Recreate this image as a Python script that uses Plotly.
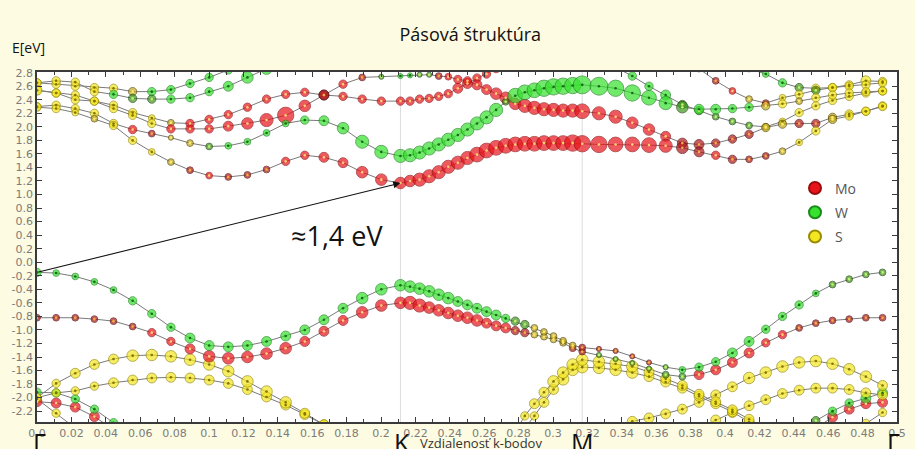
import numpy as np
import plotly.graph_objects as go

N = None

# ---------------- k-path (high-symmetry points) ----------------
path_labels = ["Γ", "K", "M", "Γ"]
path_nodes = [0.0, 0.2113, 0.3170, 0.4916]
label_pos = [0.0017, 0.2120, 0.3174, 0.4977]
seg_points = [20, 20, 19]

k1 = np.linspace(path_nodes[0], path_nodes[1], seg_points[0])
k2 = np.linspace(path_nodes[1], path_nodes[2], seg_points[1])[1:]
k3 = np.linspace(path_nodes[2], path_nodes[3], seg_points[2])[1:]
kpath = np.concatenate([k1, k2, k3])  # 57 k-points

# ---------------- band energies (eV) ----------------
# conduction bands
cb1 = ([2.29, 2.27, 2.21, 2.12, 2.02, 1.80, 1.63, 1.48, 1.36, 1.28, 1.26, 1.29, 1.37, 1.49, 1.58, 1.55, 1.47, 1.33, 1.22, 1.17]
       + [1.20, 1.22, 1.27, 1.33, 1.41, 1.47, 1.54, 1.59, 1.65, 1.69, 1.72, 1.74, 1.75, 1.75, 1.76, 1.76, 1.76, 1.76, 1.75]
       + [1.74, 1.74, 1.74, 1.73, 1.72, 1.69, 1.63, 1.58, 1.52, 1.52, 1.57, 1.64, 1.77, 1.94, 2.11, 2.16, 2.23, 2.30])
cb2 = ([2.30, 2.32, 2.27, 2.20, 2.05, 1.96, 1.90, 1.84, 1.76, 1.71, 1.72, 1.78, 1.91, 2.05, 2.10, 2.09, 1.98, 1.78, 1.63, 1.57]
       + [1.58, 1.62, 1.68, 1.74, 1.81, 1.88, 1.96, 2.05, 2.14, 2.25, 2.37, 2.46, 2.51, 2.54, 2.57, 2.59, 2.60, 2.61, 2.62]
       + [2.60, 2.57, 2.50, 2.43, 2.35, 2.29, 2.26, 2.26, 2.27, 2.29, 2.31, 2.34, 2.38, 2.43, 2.47, 2.50, 2.52, 2.53])
cb3 = ([2.54, 2.50, 2.40, 2.38, 2.27, 2.17, 2.05, 1.97, 1.97, 1.97, 2.01, 2.05, 2.10, 2.17, 2.31, 2.47, 2.63, 2.73, 2.74, 2.75]
       + [2.76, 2.77, 2.77, 2.75, 2.74, 2.70, 2.68, 2.62, 2.55, 2.49, 2.43, 2.34, 2.31, 2.28, 2.26, 2.25, 2.24, 2.24, 2.23]
       + [2.20, 2.15, 2.06, 1.96, 1.86, 1.76, 1.74, 1.76, 1.82, 1.89, 1.99, 2.04, 2.05, 2.05, 2.14, 2.19, 2.23, 2.31])
cb4 = ([2.54, 2.50, 2.47, 2.38, 2.32, 2.21, 2.13, 2.06, 2.05, 2.11, 2.18, 2.29, 2.41, 2.48, 2.51, 2.47, 2.45, 2.41, 2.38, 2.38]
       + [2.38, 2.41, 2.42, 2.45, 2.49, 2.57, 2.64, 2.72, 2.78, 2.86] + [N] * 9
       + [N] * 6 + [2.86, 2.68, 2.53, 2.41, 2.35, 2.43, 2.48, 2.54, 2.58, 2.60, 2.62, 2.65])
cb5 = ([2.65, 2.68, 2.66, 2.52, 2.48, 2.42, 2.41, 2.41, 2.43, 2.52, 2.60, 2.73, 2.86] + [N] * 7
       + [N] * 19
       + [N, 2.88, 2.75, 2.60, 2.47, 2.33, 2.24, 2.15, 2.08, 2.02, 2.00, 2.08, 2.21, 2.31, 2.39, 2.45, 2.50, 2.53])
cb6 = ([2.65, 2.63, 2.60, 2.58, 2.57, 2.52, 2.52, 2.55, 2.64, 2.73, 2.84] + [N] * 9
       + [N] * 19
       + [N] * 9 + [2.86, 2.78, 2.65, 2.58, 2.57, 2.58, 2.62, 2.68, 2.67])

# valence bands
vb1 = ([-0.15, -0.16, -0.21, -0.29, -0.41, -0.57, -0.76, -0.96, -1.12, -1.23, -1.25, -1.23, -1.17, -1.09, -1.00, -0.85, -0.68, -0.53, -0.40, -0.34]
       + [-0.36, -0.39, -0.43, -0.48, -0.53, -0.58, -0.63, -0.68, -0.73, -0.78, -0.83, -0.87, -0.92, -0.97, -1.03, -1.09, -1.16, -1.23, -1.26]
       + [-1.28, -1.31, -1.39, -1.48, -1.55, -1.59, -1.55, -1.47, -1.34, -1.17, -0.99, -0.80, -0.63, -0.46, -0.33, -0.25, -0.18, -0.15])
vb2 = ([-0.82, -0.82, -0.82, -0.84, -0.87, -0.95, -1.04, -1.17, -1.28, -1.39, -1.42, -1.40, -1.35, -1.27, -1.17, -1.02, -0.86, -0.74, -0.64, -0.60]
       + [-0.60, -0.64, -0.67, -0.71, -0.75, -0.79, -0.82, -0.86, -0.90, -0.94, -0.97, -1.01, -1.04, -1.07, -1.10, -1.14, -1.19, -1.27, -1.32]
       + [-1.37, -1.43, -1.49, -1.57, -1.66, -1.69, -1.66, -1.59, -1.48, -1.34, -1.19, -1.07, -0.97, -0.90, -0.86, -0.84, -0.82, -0.82])
vb3 = ([-2.00, -1.79, -1.64, -1.51, -1.43, -1.38, -1.37, -1.39, -1.44, -1.51, -1.61, -1.76, -1.91, -2.07, -2.23, -2.40] + [N] * 4
       + [N] * 37)
vb4 = ([-2.00, -1.93, -1.90, -1.83, -1.78, -1.74, -1.71, -1.70, -1.71, -1.74, -1.79, -1.88, -1.99, -2.11, -2.25, -2.40] + [N] * 4
       + [N] * 37)
vb5 = [-1.92, -1.93, -2.02, -2.17, -2.37, -2.55] + [N] * 51
vb6 = [-2.06, -2.08, -2.14, -2.28, -2.47] + [N] * 52
vb7 = [-2.02, -2.23, -2.45] + [N] * 54
vb8 = ([N] * 20
       + [N] * 11 + [-2.50, -2.27, -2.09, -1.92, -1.76, -1.63, -1.51, -1.44]
       + [-1.47, -1.50, -1.54, -1.62, -1.72, -1.82, -1.95, -2.06, -2.18, -2.32, -2.45] + [N] * 7)
vb9 = ([N] * 20
       + [N] * 12 + [-2.45, -2.27, -2.07, -1.88, -1.73, -1.59, -1.55]
       + [-1.56, -1.59, -1.63, -1.69, -1.77, -1.86, -1.98, -2.09, -2.21, -2.36, -2.50] + [N] * 7)
vb10 = ([N] * 39
        + [N, -2.45, -2.35, -2.30, -2.24, -2.17, -2.07, -1.96, -1.84, -1.71, -1.63, -1.54, -1.48, -1.46, -1.50, -1.58, -1.69, -1.82])
vb11 = [N] * 39 + [N] * 6 + [-2.45, -2.33, -2.22, -2.12, -2.03, -1.94, -1.89, -1.86, -1.86, -1.88, -1.93, -1.96]
vb12 = [N] * 39 + [N] * 12 + [-2.50, -2.34, -2.20, -2.08, -2.01, -1.93]
vb13 = [N] * 39 + [N] * 13 + [-2.45, -2.29, -2.17, -2.09, -2.07]
vb14 = [N] * 39 + [N] * 15 + [-2.55, -2.38, -2.22]

# ---------------- dominant atom per point (R=Mo, G=W, Y=S; lowercase = mixed) ----------------
cb1_el = "YYYyYYYyrRrrrRRRRRRR" + "R" * 19 + "RRRRRrrRrrryYYyYYY"
cb2_el = "YYYYYRryygGGGGGGGGGG" + "GGGGGGGGGGgGGGGGGGG" + "GGGGGgGGGGyYyYYYYY"
cb3_el = "YYYYYYYRRRRRRRRrRrgG" + "GggrRRRRRRRRRRRRRRR" + "RRRRRrrrrryyrryYYY"
cb4_el = "YYYYYYYyRRRRRRRrRRRR" + "R" * 10 + "." * 9 + "." * 6 + "RrRyrYYgYYYY"
cb5_el = "YYYYGggGGGGGG" + "." * 7 + "." * 19 + ".GGGGgggggyYYYYYYY"
cb6_el = "YYYYYyGGGGG" + "." * 9 + "." * 19 + "." * 9 + "GGGgYYYYY"
vb1_el = "G" * 20 + "GGGGGGGGGGGggyyyyyr" + "rrrrgGGGGGGGGGgggg"
vb2_el = "rrrrrrRRRRRRRRRRRRRR" + "RRRRRRRRRRRrryyyyrr" + "ggggggRRRRRRrrrrrr"
vb3_el = "Y" * 16 + "." * 41
vb4_el = "Y" * 16 + "." * 41
vb5_el = "G" * 6 + "." * 51
vb6_el = "R" * 5 + "." * 52
vb7_el = "Y" * 3 + "." * 54
vb8_el = "." * 31 + "Y" * 19 + "." * 7
vb9_el = "." * 32 + "Y" * 18 + "." * 7
vb10_el = "." * 40 + "Y" * 17
vb11_el = "." * 45 + "Y" * 12
vb12_el = "." * 51 + "ggGGGG"
vb13_el = "." * 52 + "RRRRR"
vb14_el = "." * 54 + "YYY"

# ---------------- projected weight level per point (1..9) ----------------
cb1_w = "33223322222223344555" + "5666666777777777788" + "877765433222233333"
cb2_w = "33333321222222345666" + "6666666666277788889" + "988765443333233333"
cb3_w = "43333333334568543211" + "1112233445556666667" + "665544433333333333"
cb4_w = "33333322333333343333" + "3333344333" + "." * 9 + "." * 6 + "222222333333"
cb5_w = "3333333333455" + "." * 7 + "." * 19 + ".33343322222333333"
cb6_w = "33333333333" + "." * 9 + "." * 19 + "." * 9 + "223333343"
vb1_w = "32222333444444444555" + "5555544444333222222" + "111112334433322222"
vb2_w = "22222233455555444555" + "6655555544433222222" + "111122444433222222"
vb3_w = "3344455555555544" + "." * 41
vb4_w = "3333444444444444" + "." * 41
vb5_w = "333333" + "." * 51
vb6_w = "44443" + "." * 52
vb7_w = "332" + "." * 54
vb8_w = "." * 31 + "33445555" + "55544444444" + "." * 7
vb9_w = "." * 32 + "3344555" + "55544444444" + "." * 7
vb10_w = "." * 40 + "44444444555555554"
vb11_w = "." * 45 + "444444444444"
vb12_w = "." * 51 + "333344"
vb13_w = "." * 52 + "44444"
vb14_w = "." * 54 + "333"

bands = [
    (vb14, vb14_el, vb14_w), (vb13, vb13_el, vb13_w), (vb12, vb12_el, vb12_w),
    (vb11, vb11_el, vb11_w), (vb10, vb10_el, vb10_w), (vb9, vb9_el, vb9_w), (vb8, vb8_el, vb8_w),
    (vb7, vb7_el, vb7_w), (vb6, vb6_el, vb6_w), (vb5, vb5_el, vb5_w),
    (vb4, vb4_el, vb4_w), (vb3, vb3_el, vb3_w), (vb2, vb2_el, vb2_w), (vb1, vb1_el, vb1_w),
    (cb6, cb6_el, cb6_w), (cb5, cb5_el, cb5_w), (cb4, cb4_el, cb4_w),
    (cb3, cb3_el, cb3_w), (cb2, cb2_el, cb2_w), (cb1, cb1_el, cb1_w),
]
for e, el, w in bands:
    assert len(e) == 57 and len(el) == 57 and len(w) == 57, (len(e), len(el), len(w))

legend_names = ["Mo", "W", "S"]
legend_codes = ["R", "G", "Y"]

# ---------------- styles ----------------
FILL = {'R': '#e8141c', 'r': '#b0161a', 'G': '#36e22e', 'g': '#3f9a1e', 'Y': '#f4e622', 'y': '#c2ad1c'}
EDGE = {'R': '#9a0c0c', 'r': '#5a0a0a', 'G': '#1d8a1d', 'g': '#1d470c', 'Y': '#9a8c00', 'y': '#5a4a00'}
DOT = {'R': '#ffd070', 'r': '#f0b040', 'G': '#156e15', 'g': '#c8f070', 'Y': '#857600', 'y': '#ffe870'}


def msize(d):
    return 3.5 + 1.6 * int(d)


fig = go.Figure()

# connecting lines
for e, el, w in bands:
    fig.add_trace(go.Scatter(x=kpath, y=e, mode='lines', line=dict(color='#7a7a7a', width=1),
                             hoverinfo='skip', showlegend=False, connectgaps=False))

# fat-band markers
dx, dy, dc = [], [], []
for e, el, w in bands:
    xs, ys, cs, es, ss = [], [], [], [], []
    for k, v, c, d in zip(kpath, e, el, w):
        if v is None or c == '.':
            continue
        xs.append(k); ys.append(v)
        cs.append(FILL[c]); es.append(EDGE[c]); ss.append(msize(d))
        dx.append(k); dy.append(v); dc.append(DOT[c])
    fig.add_trace(go.Scatter(x=xs, y=ys, mode='markers',
                             marker=dict(size=ss, color=cs, line=dict(color=es, width=1)),
                             hoverinfo='skip', showlegend=False))

# centre dots
fig.add_trace(go.Scatter(x=dx, y=dy, mode='markers', marker=dict(size=2.6, color=dc),
                         hoverinfo='skip', showlegend=False))

# legend entries
for name, code in zip(legend_names, legend_codes):
    fig.add_trace(go.Scatter(x=[None], y=[None], mode='markers', name=name, legendgroup=name,
                             marker=dict(size=13, color=FILL[code], line=dict(color=EDGE[code], width=1))))

# x ticks
xtick_vals = [0.0, 0.02, 0.04, 0.06, 0.08, 0.1, 0.12, 0.14, 0.16, 0.18, 0.2, 0.22, 0.24,
              0.26, 0.28, 0.3, 0.32, 0.34, 0.36, 0.38, 0.4, 0.42, 0.44, 0.46, 0.48, 0.5]
xtick_text = ["0.0", "0.02", "0.04", "0.06", "0.08", "0.1", "0.12", "0.14", "0.16", "0.18", "0.2", "0.22", "0.24",
              "0.26", "0.28", "0.3", "0.32", "0.34", "0.36", "0.38", "0.4", "0.42", "0.44", "0.46", "0.48", "0.5"]
ytick_vals = [round(v, 1) for v in np.arange(-2.2, 2.81, 0.2)]
ytick_text = [f"{v + 0.0:.1f}" for v in ytick_vals]

axis_common = dict(showline=True, linecolor='#3a3a3a', linewidth=1.6, mirror='ticks', ticks='inside',
                   ticklen=5, tickcolor='#3a3a3a', showgrid=False, zeroline=False, automargin=False,
                   tickfont=dict(family='DejaVu Sans', size=11, color='#7c7c7c'))

fig.update_xaxes(range=[0, 0.5], tickvals=xtick_vals, ticktext=xtick_text,
                 minor=dict(tick0=0, dtick=0.01, ticks='inside', ticklen=3, tickcolor='#3a3a3a'),
                 **axis_common)
fig.update_yaxes(range=[-2.36, 2.81], tickvals=ytick_vals, ticktext=ytick_text, **axis_common)

# K and M vertical guides
shapes = []
for xv in path_nodes[1:3]:
    shapes.append(dict(type='line', x0=xv, x1=xv, y0=0, y1=1, xref='x', yref='paper',
                       line=dict(color='#dcdcdc', width=1), layer='below'))

annotations = [
    dict(x=kpath[19], y=cb1[19], ax=kpath[0], ay=vb1[0], xref='x', yref='y', axref='x', ayref='y',
         showarrow=True, arrowhead=2, arrowsize=1.3, arrowwidth=1.1, arrowcolor='#111', text=''),
    dict(x=0.1744, y=0.40, xref='x', yref='y', text='≈1,4 eV', showarrow=False,
         font=dict(family='Open Sans', size=27, color='#111')),
    dict(x=-0.0314, y=1.071, xref='paper', yref='paper', text='E[eV]', showarrow=False,
         xanchor='left', yanchor='middle', font=dict(family='Open Sans', size=14, color='#111')),
    dict(x=0.258, y=-0.06, xref='x', yref='paper', text='Vzdialenosť k-bodov', showarrow=False,
         xanchor='center', yanchor='middle', font=dict(family='Open Sans', size=13, color='#333')),
]
for lab, pos in zip(path_labels, label_pos):
    annotations.append(dict(x=pos, y=-0.003, xref='x', yref='paper', text=lab, showarrow=False,
                            xanchor='center', yanchor='top',
                            font=dict(family='Open Sans', size=25, color='#111')))

fig.update_layout(
    width=915, height=449,
    margin=dict(l=37, r=18, t=72, b=27),
    paper_bgcolor='#fdfbe1', plot_bgcolor='white',
    title=dict(text='Pásová štruktúra', x=0.514, xref='container', xanchor='center',
               y=0.922, yref='container', yanchor='middle',
               font=dict(family='Open Sans', size=18, color='#111')),
    showlegend=True,
    legend=dict(x=0.8814, y=0.713, xanchor='left', yanchor='top', bgcolor='rgba(0,0,0,0)',
                font=dict(family='Open Sans', size=14, color='#555'), itemsizing='constant',
                tracegroupgap=3),
    shapes=shapes, annotations=annotations,
)

fig.write_html("out.html", config={'displayModeBar': False},
               post_script="document.body.style.margin='0';")
